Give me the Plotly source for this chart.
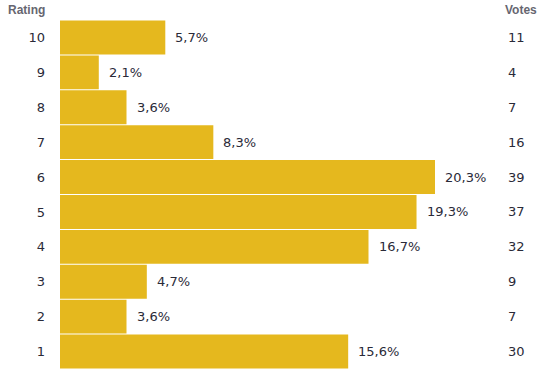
import plotly.graph_objects as go

ratings = [10, 9, 8, 7, 6, 5, 4, 3, 2, 1]
percents = [5.7, 2.1, 3.6, 8.3, 20.3, 19.3, 16.7, 4.7, 3.6, 15.6]
votes = [11, 4, 7, 16, 39, 37, 32, 9, 7, 30]

BAR = "#E5B81E"
TXT = "#2a2a38"
HDR = "#666670"
FONT = "DejaVu Sans"

W, H = 552, 374
L, R, T, B = 60, 0, 20, 5
pw = W - L - R
ph = H - T - B

fig = go.Figure()
fig.add_trace(go.Bar(
    x=percents, y=ratings, orientation="h",
    marker=dict(color=BAR, line=dict(width=0)),
    width=34/35, hoverinfo="skip",
))

annotations = []
for r, p, v in zip(ratings, percents, votes):
    annotations.append(dict(
        x=p, y=r, xref="x", yref="y", text=f"{p:.1f}".replace(".", ",") + "%",
        xanchor="left", yanchor="middle", showarrow=False, xshift=8,
        font=dict(family=FONT, size=13, color=TXT),
    ))
    annotations.append(dict(
        x=(506 - L) / pw, y=r, xref="paper", yref="y", text=str(v),
        xanchor="left", yanchor="middle", showarrow=False,
        font=dict(family=FONT, size=13, color=TXT),
    ))

annotations.append(dict(
    x=(6 - L) / pw, y=1 + 10 / ph, xref="paper", yref="paper", text="<b>Rating</b>",
    xanchor="left", yanchor="middle", showarrow=False,
    font=dict(family="Liberation Sans", size=12, color=HDR),
))
annotations.append(dict(
    x=(503 - L) / pw, y=1 + 10 / ph, xref="paper", yref="paper", text="<b>Votes</b>",
    xanchor="left", yanchor="middle", showarrow=False,
    font=dict(family="Liberation Sans", size=12, color=HDR),
))

fig.update_layout(
    width=W, height=H,
    margin=dict(l=L, r=R, t=T, b=B, autoexpand=False),
    paper_bgcolor="white", plot_bgcolor="white",
    showlegend=False,
    hovermode=False,
    xaxis=dict(range=[0, pw / (375 / 20.3)], visible=False, fixedrange=True,
               automargin=False),
    yaxis=dict(
        range=[0.5, 10.5], tickmode="array", tickvals=ratings,
        ticktext=[str(r) for r in ratings],
        showgrid=False, zeroline=False, showline=False, ticks="",
        ticklabelstandoff=14, automargin=False,
        tickfont=dict(family=FONT, size=13, color=TXT),
        fixedrange=True,
    ),
    annotations=annotations,
)

fig.write_html("out.html", config={"displayModeBar": False},
               post_script="document.body.style.margin='0';")
